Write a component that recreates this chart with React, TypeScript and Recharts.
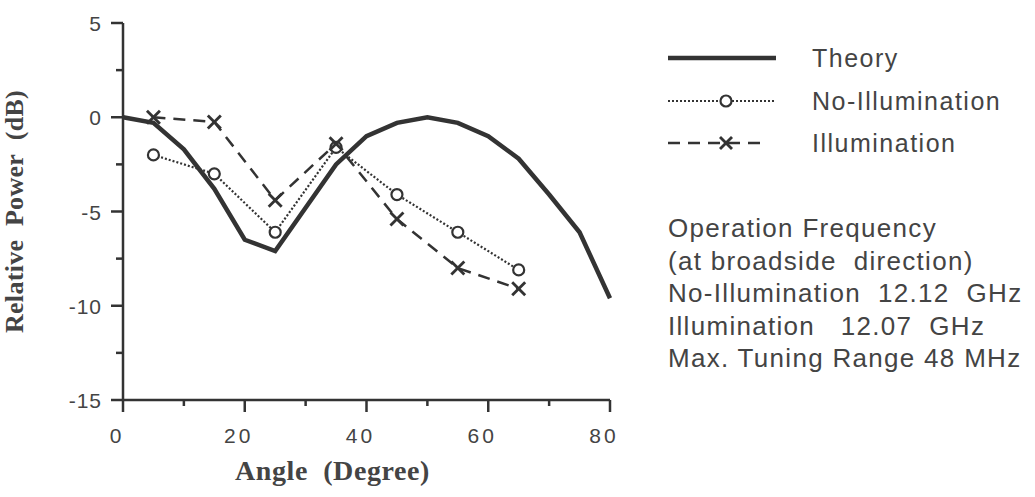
import React from 'react';
import { LineChart, Line, XAxis, YAxis, Legend } from 'recharts';

const angles = [0, 5, 10, 15, 20, 25, 30, 35, 40, 45, 50, 55, 60, 65, 70, 75, 80];
const theory = [0, -0.3, -1.7, -3.8, -6.5, -7.1, -4.8, -2.5, -1.0, -0.3, 0, -0.3, -1.0, -2.2, -4.1, -6.1, -9.6];
const measAngles = [5, 15, 25, 35, 45, 55, 65];
const noIllumination = [-2.0, -3.0, -6.1, -1.6, -4.1, -6.1, -8.1];
const illumination = [0, -0.25, -4.4, -1.4, -5.4, -8.0, -9.1];
const xTicks = [0, 10, 20, 30, 40, 50, 60, 70, 80];
const yTicks = [-15, -12.5, -10, -7.5, -5, -2.5, 0, 2.5, 5];
const seriesNames = ['Theory', 'No-Illumination', 'Illumination'];
const xLabel = 'Angle\u00A0\u00A0(Degree)';
const yLabel = 'Relative\u00A0\u00A0Power\u00A0\u00A0(dB)';
const infoLines = [
  'Operation Frequency',
  '(at broadside  direction)',
  'No-Illumination  12.12  GHz',
  'Illumination   12.07  GHz',
  'Max. Tuning Range 48 MHz',
];

const data = angles.map((a, i) => {
  const j = measAngles.indexOf(a);
  return {
    angle: a,
    theory: theory[i],
    noIllum: j >= 0 ? noIllumination[j] : null,
    illum: j >= 0 ? illumination[j] : null,
  };
});

const INK = '#333';
const TEXT = '#444';
const SANS = '"Liberation Sans", Arial, Helvetica, sans-serif';
const SERIF = '"Liberation Serif", "Times New Roman", serif';

const XTick = (props: any) => {
  const { x, y, payload } = props;
  const major = payload.value % 20 === 0;
  return (
    <g>
      <line x1={x} y1={y} x2={x} y2={y + (major ? 12 : 6)} stroke={INK} strokeWidth={2.5} />
      {major && (
        <text x={x - 6} y={y + 43} textAnchor="middle" fontFamily={SANS} fontSize={21} fill={TEXT} letterSpacing={3}>
          {payload.value}
        </text>
      )}
    </g>
  );
};

const YTick = (props: any) => {
  const { x, y, payload } = props;
  const major = payload.value % 5 === 0;
  return (
    <g>
      <line x1={x} y1={y} x2={x - (major ? 12 : 7)} y2={y} stroke={INK} strokeWidth={2.5} />
      {major && (
        <text x={x - 21} y={y + 8} textAnchor="end" fontFamily={SANS} fontSize={21} fill={TEXT} letterSpacing={1}>
          {payload.value}
        </text>
      )}
    </g>
  );
};

const CircleDot = (props: any) => {
  const { cx, cy, value, index } = props;
  if (value === null || value === undefined) return <g key={index} />;
  return <circle key={index} cx={cx} cy={cy} r={5.5} fill="#fff" stroke={INK} strokeWidth={2.2} />;
};

const CrossDot = (props: any) => {
  const { cx, cy, value, index } = props;
  if (value === null || value === undefined) return <g key={index} />;
  const s = 6.5;
  return (
    <g key={index}>
      <line x1={cx - s} y1={cy - s} x2={cx + s} y2={cy + s} stroke={INK} strokeWidth={2.8} />
      <line x1={cx - s} y1={cy + s} x2={cx + s} y2={cy - s} stroke={INK} strokeWidth={2.8} />
    </g>
  );
};

const LegendContent = () => {
  const rows = [18, 61, 103];
  return (
    <svg width={385} height={130}>
      <line x1={18} y1={rows[0]} x2={126} y2={rows[0]} stroke={INK} strokeWidth={4.5} />
      <line x1={18} y1={rows[1]} x2={124} y2={rows[1]} stroke={INK} strokeWidth={2.2} strokeDasharray="2 2" />
      <circle cx={76} cy={rows[1]} r={5.5} fill="#fff" stroke={INK} strokeWidth={2.2} />
      <line x1={18} y1={rows[2]} x2={118} y2={rows[2]} stroke={INK} strokeWidth={2.5} strokeDasharray="12 8" />
      <line x1={70} y1={rows[2] - 6} x2={82} y2={rows[2] + 6} stroke={INK} strokeWidth={2.8} />
      <line x1={70} y1={rows[2] + 6} x2={82} y2={rows[2] - 6} stroke={INK} strokeWidth={2.8} />
      {seriesNames.map((n, i) => (
        <text key={n} x={162} y={rows[i] + 9} fontFamily={SANS} fontSize={25} fill={TEXT} letterSpacing={1.5}>
          {n}
        </text>
      ))}
    </svg>
  );
};

export default function App() {
  return (
    <div style={{ position: 'absolute', left: 0, top: 0, width: 1035, height: 497, background: '#fff' }}>
      <LineChart width={1035} height={497} data={data} margin={{ top: 23, right: 425, bottom: 0, left: 0 }}>
        <XAxis
          dataKey="angle"
          type="number"
          domain={[0, 80]}
          ticks={xTicks}
          interval={0}
          height={97}
          tickLine={false}
          tickSize={0}
          tickMargin={0}
          axisLine={{ stroke: INK, strokeWidth: 2.5 }}
          tick={<XTick />}
          label={{
            value: xLabel,
            position: 'insideBottom',
            offset: 17,
            dx: -34,
            style: { fontFamily: SERIF, fontWeight: 'bold', fontSize: 28, fill: TEXT, letterSpacing: 0.6 },
          }}
        />
        <YAxis
          type="number"
          domain={[-15, 5]}
          ticks={yTicks}
          interval={0}
          width={123}
          tickLine={false}
          tickSize={0}
          tickMargin={0}
          axisLine={{ stroke: INK, strokeWidth: 2.5 }}
          tick={<YTick />}
          label={{
            value: yLabel,
            angle: -90,
            position: 'insideLeft',
            offset: 14,
            dy: 0,
            style: { fontFamily: SERIF, fontWeight: 'bold', fontSize: 26, fill: TEXT, letterSpacing: 0.3, textAnchor: 'middle' },
          }}
        />
        <Legend
          layout="horizontal"
          verticalAlign="middle"
          align="center"
          wrapperStyle={{ left: 650, top: 40, width: 385, height: 130 }}
          content={<LegendContent />}
        />
        <Line
          type="linear"
          dataKey="theory"
          name="Theory"
          stroke={INK}
          strokeWidth={4.5}
          dot={false}
          isAnimationActive={false}
        />
        <Line
          type="linear"
          dataKey="noIllum"
          name="No-Illumination"
          stroke={INK}
          strokeWidth={2.2}
          strokeDasharray="2 2"
          connectNulls
          dot={<CircleDot />}
          isAnimationActive={false}
        />
        <Line
          type="linear"
          dataKey="illum"
          name="Illumination"
          stroke={INK}
          strokeWidth={2.5}
          strokeDasharray="12 8"
          connectNulls
          dot={<CrossDot />}
          isAnimationActive={false}
        />
      </LineChart>
      <div
        style={{
          position: 'absolute',
          left: 668,
          top: 212,
          fontFamily: SANS,
          fontSize: 26,
          lineHeight: '32.5px',
          color: TEXT,
          letterSpacing: 1.3,
          whiteSpace: 'pre',
        }}
      >
        {infoLines.map((l) => (
          <div key={l}>{l}</div>
        ))}
      </div>
    </div>
  );
}
